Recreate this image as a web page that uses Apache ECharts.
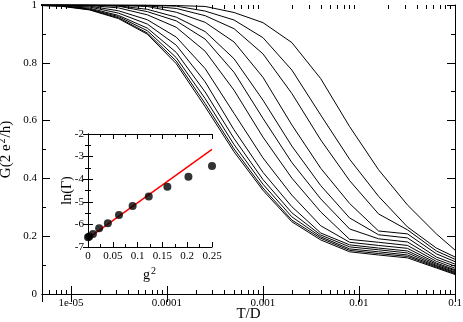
<!DOCTYPE html>
<html>
<head>
<meta charset="UTF-8">
<title></title>
<script src="https://cdn.jsdelivr.net/npm/echarts@6/dist/echarts.min.js"></script>
</head>
<body style="margin:0;background:#fff">
<div id="main" style="width:463px;height:322px;"></div>
<script type="text/javascript">
// T/D grid, one point per factor of 2
var temps = [3.90625e-6, 7.8125e-6, 1.5625e-5, 3.125e-5, 6.25e-5, 1.25e-4, 2.5e-4, 5e-4, 0.001, 0.002, 0.004, 0.008, 0.016, 0.032, 0.064, 0.128];

// G in units of 2e^2/h, lowest curve first
var curve1 = [0.999, 0.996, 0.983, 0.953, 0.899, 0.797, 0.648, 0.492, 0.359, 0.250, 0.187, 0.146, 0.135, 0.125, 0.090, 0.055];
var curve2 = [0.999, 0.997, 0.984, 0.956, 0.903, 0.806, 0.659, 0.502, 0.367, 0.256, 0.193, 0.151, 0.140, 0.130, 0.093, 0.058];
var curve3 = [0.999, 0.997, 0.986, 0.960, 0.911, 0.818, 0.676, 0.517, 0.380, 0.267, 0.198, 0.156, 0.146, 0.135, 0.096, 0.061];
var curve4 = [1.000, 0.997, 0.989, 0.964, 0.920, 0.836, 0.699, 0.538, 0.396, 0.281, 0.204, 0.163, 0.153, 0.142, 0.099, 0.064];
var curve5 = [1.000, 0.998, 0.993, 0.972, 0.934, 0.861, 0.734, 0.568, 0.421, 0.302, 0.211, 0.170, 0.159, 0.149, 0.103, 0.068];
var curve6 = [1.000, 0.999, 0.996, 0.980, 0.949, 0.889, 0.780, 0.625, 0.471, 0.342, 0.236, 0.179, 0.168, 0.158, 0.107, 0.071];
var curve7 = [1.000, 1.000, 0.998, 0.990, 0.966, 0.923, 0.840, 0.705, 0.543, 0.401, 0.284, 0.189, 0.179, 0.168, 0.113, 0.076];
var curve8 = [1.000, 1.000, 0.999, 0.996, 0.977, 0.945, 0.882, 0.767, 0.608, 0.455, 0.329, 0.225, 0.191, 0.180, 0.120, 0.083];
var curve9 = [1.000, 1.000, 0.999, 0.997, 0.985, 0.958, 0.908, 0.814, 0.671, 0.512, 0.375, 0.263, 0.205, 0.194, 0.128, 0.090];
var curve10 = [1.000, 1.000, 1.000, 0.998, 0.995, 0.975, 0.940, 0.872, 0.750, 0.585, 0.435, 0.313, 0.218, 0.208, 0.139, 0.097];
var curve11 = [1.000, 1.000, 1.000, 0.999, 0.997, 0.988, 0.963, 0.918, 0.831, 0.694, 0.533, 0.392, 0.277, 0.222, 0.149, 0.104];
var curve12 = [1.000, 1.000, 1.000, 1.000, 0.999, 0.996, 0.979, 0.948, 0.887, 0.775, 0.619, 0.466, 0.338, 0.232, 0.159, 0.111];
var curve13 = [1.000, 1.000, 1.000, 1.000, 1.000, 0.998, 0.995, 0.974, 0.939, 0.870, 0.745, 0.579, 0.430, 0.308, 0.208, 0.121];

// minor tick values of the log axis
var minorTicksT = [6e-6, 7e-6, 8e-6, 9e-6,
  2e-5, 3e-5, 4e-5, 5e-5, 6e-5, 7e-5, 8e-5, 9e-5,
  2e-4, 3e-4, 4e-4, 5e-4, 6e-4, 7e-4, 8e-4, 9e-4,
  2e-3, 3e-3, 4e-3, 5e-3, 6e-3, 7e-3, 8e-3, 9e-3,
  2e-2, 3e-2, 4e-2, 5e-2, 6e-2, 7e-2, 8e-2, 9e-2];

// inset: ln(Gamma) vs g^2 and the straight fit
var gSquared = [0, 0.0025, 0.01, 0.0225, 0.04, 0.0625, 0.09, 0.1225, 0.16, 0.2025, 0.25];
var lnGamma = [-6.57, -6.53, -6.42, -6.17, -5.95, -5.58, -5.19, -4.77, -4.33, -3.89, -3.42];
var fitX = [0, 0.25];
var fitY = [-6.62, -2.68];

var font = 'Liberation Serif';
var tMin = 5e-6, tMax = 0.1;

function fmtT(v) {
  var e = Math.round(Math.log10(v));
  if (e < -4) return '1e-' + (-e < 10 ? '0' : '') + (-e);
  return Math.pow(10, e).toFixed(-e);
}

var curves = [curve1, curve2, curve3, curve4, curve5, curve6, curve7, curve8, curve9, curve10, curve11, curve12, curve13];
var series = curves.map(function (c) {
  return {
    type: 'line', xAxisIndex: 0, yAxisIndex: 0,
    data: temps.map(function (t, i) { return [t, c[i]]; }),
    showSymbol: false, symbol: 'none', clip: true,
    lineStyle: { color: '#000', width: 1 }
  };
});
series.push({
  type: 'line', xAxisIndex: 4, yAxisIndex: 2,
  data: fitX.map(function (x, i) { return [x, fitY[i]]; }),
  symbol: 'none', lineStyle: { color: '#ff0000', width: 1.5 }, z: 3
});
series.push({
  type: 'scatter', xAxisIndex: 4, yAxisIndex: 2,
  data: gSquared.map(function (x, i) { return [x, lnGamma[i]]; }),
  symbolSize: 8, itemStyle: { color: '#000' }, z: 4
});

var line = { show: true, lineStyle: { color: '#000', width: 1 } };
var label = { fontFamily: font, fontSize: 11, color: '#000' };
var supStyle = { fontFamily: font, fontSize: 10, color: '#000', verticalAlign: 'top', padding: [0, 1, 9, 1] };

var myChart = echarts.init(document.getElementById('main'));
myChart.setOption({
  animation: false,
  backgroundColor: '#fff',
  grid: [
    { left: 42, right: 8, top: 5, bottom: 28, containLabel: false, outerBoundsMode: 'none' },
    { left: 88, top: 134, width: 124, height: 113, show: true, backgroundColor: '#fff', borderWidth: 0,
      containLabel: false, outerBoundsMode: 'none' }
  ],
  xAxis: [
    { type: 'log', logBase: 10, gridIndex: 0, min: tMin, max: tMax, position: 'bottom',
      axisLine: line, axisTick: { show: true, inside: true, length: 8, lineStyle: { color: '#000' } },
      axisLabel: Object.assign({ margin: 4, showMinLabel: false, formatter: fmtT }, label),
      splitLine: { show: false },
      name: 'T/D', nameLocation: 'middle', nameGap: 13, nameMoveOverlap: false,
      nameTextStyle: { fontFamily: font, fontSize: 15, color: '#000' } },
    { type: 'log', logBase: 10, gridIndex: 0, min: tMin, max: tMax, position: 'top',
      axisLine: line, axisTick: { show: true, inside: true, length: 8, lineStyle: { color: '#000' } },
      axisLabel: { show: false }, splitLine: { show: false } },
    { type: 'value', gridIndex: 0, min: Math.log10(tMin), max: Math.log10(tMax), position: 'bottom',
      axisLine: { show: false },
      axisTick: { show: true, inside: true, length: 4, lineStyle: { color: '#000' }, customValues: minorTicksT.map(Math.log10) },
      axisLabel: { show: false }, splitLine: { show: false } },
    { type: 'value', gridIndex: 0, min: Math.log10(tMin), max: Math.log10(tMax), position: 'top',
      axisLine: { show: false },
      axisTick: { show: true, inside: true, length: 4, lineStyle: { color: '#000' }, customValues: minorTicksT.map(Math.log10) },
      axisLabel: { show: false }, splitLine: { show: false } },
    { type: 'value', gridIndex: 1, min: 0, max: 0.25, interval: 0.05, position: 'bottom',
      axisLine: line, axisTick: { show: true, inside: true, length: 5, lineStyle: { color: '#000' } },
      minorTick: { show: true, splitNumber: 2, length: 3, lineStyle: { color: '#000' } },
      axisLabel: Object.assign({ margin: 4 }, label), splitLine: { show: false },
      name: 'g{sup|2}', nameLocation: 'middle', nameGap: 19, nameMoveOverlap: false,
      nameTextStyle: { fontFamily: font, fontSize: 14, color: '#000', rich: { sup: supStyle } } },
    { type: 'value', gridIndex: 1, min: 0, max: 0.25, interval: 0.05, position: 'top',
      axisLine: line, axisTick: { show: true, inside: true, length: 5, lineStyle: { color: '#000' } },
      minorTick: { show: true, splitNumber: 2, length: 3, lineStyle: { color: '#000' } },
      axisLabel: { show: false }, splitLine: { show: false } }
  ],
  yAxis: [
    { type: 'value', gridIndex: 0, min: 0, max: 1, interval: 0.2, position: 'left',
      axisLine: line, axisTick: { show: true, inside: true, length: 8, lineStyle: { color: '#000' } },
      minorTick: { show: true, splitNumber: 2, length: 4, lineStyle: { color: '#000' } },
      axisLabel: Object.assign({ margin: 5 }, label), splitLine: { show: false },
      name: 'G(2 e{sup|2}/h)', nameLocation: 'middle', nameGap: 26, nameRotate: 90, nameMoveOverlap: false,
      nameTextStyle: { fontFamily: font, fontSize: 15, color: '#000', rich: { sup: supStyle } } },
    { type: 'value', gridIndex: 0, min: 0, max: 1, interval: 0.2, position: 'right',
      axisLine: line, axisTick: { show: true, inside: true, length: 8, lineStyle: { color: '#000' } },
      minorTick: { show: true, splitNumber: 2, length: 4, lineStyle: { color: '#000' } },
      axisLabel: { show: false }, splitLine: { show: false } },
    { type: 'value', gridIndex: 1, min: -7, max: -2, interval: 1, position: 'left',
      axisLine: line, axisTick: { show: true, inside: true, length: 5, lineStyle: { color: '#000' } },
      minorTick: { show: true, splitNumber: 2, length: 3, lineStyle: { color: '#000' } },
      axisLabel: Object.assign({ margin: 4 }, label), splitLine: { show: false },
      name: 'ln(Γ)', nameLocation: 'middle', nameGap: 14, nameRotate: 90, nameMoveOverlap: false,
      nameTextStyle: { fontFamily: font, fontSize: 14, color: '#000' } },
    { type: 'value', gridIndex: 1, min: -7, max: -2, interval: 1, position: 'right',
      axisLine: line, axisTick: { show: true, inside: true, length: 5, lineStyle: { color: '#000' } },
      minorTick: { show: true, splitNumber: 2, length: 3, lineStyle: { color: '#000' } },
      axisLabel: { show: false }, splitLine: { show: false } }
  ],
  series: series
});
</script>
</body>
</html>
